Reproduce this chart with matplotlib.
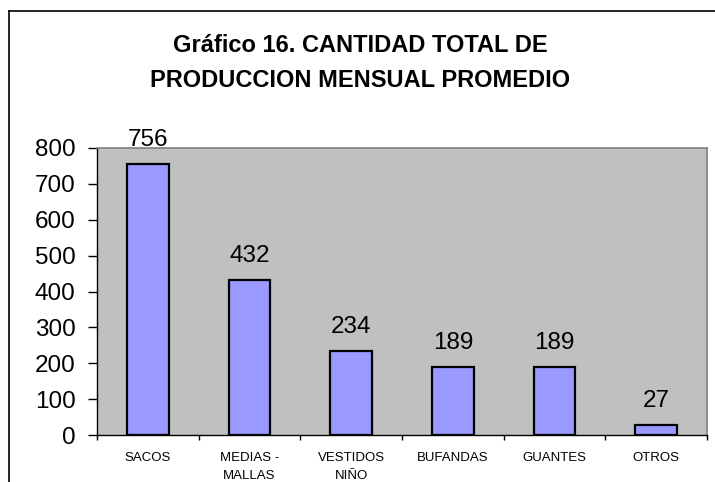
import matplotlib
matplotlib.use("Agg")
import matplotlib.pyplot as plt
from matplotlib.lines import Line2D
import numpy as np

categories = ["SACOS", "MEDIAS -\nMALLAS", "VESTIDOS\nNIÑO", "BUFANDAS", "GUANTES", "OTROS"]
values = [756, 432, 234, 189, 189, 27]
yticks = [0, 100, 200, 300, 400, 500, 600, 700, 800]
title1 = "Gráfico 16. CANTIDAD TOTAL DE"
title2 = "PRODUCCION MENSUAL PROMEDIO"

plt.rcParams['font.family'] = ['Liberation Sans', 'DejaVu Sans']

W, H = 715, 482
fig = plt.figure(figsize=(W / 100, H / 100), dpi=100)
fig.patch.set_facecolor("white")

L, R, T, B = 97, 707, 148, 435
ax = fig.add_axes([L / W, 1 - B / H, (R - L) / W, (B - T) / H])
ax.set_facecolor("#C0C0C0")

x = np.arange(len(categories))
ax.bar(x, values, width=0.41, color="#9999FF", edgecolor="black", linewidth=1.6, zorder=3)

ax.set_xlim(-0.5, len(categories) - 0.5)
ax.set_ylim(0, 800)
ax.set_yticks(yticks)
ax.set_yticklabels([str(v) for v in yticks], fontsize=17.5)
ax.tick_params(axis='y', direction='out', length=6.5, width=1, pad=9, colors='black')

ax.set_xticks(x)
ax.set_xticklabels(categories, fontsize=9.5, linespacing=1.6, va='top')
ax.tick_params(axis='x', which='major', length=0, pad=12.5)
ax.set_xticks(np.arange(-0.5, len(categories) + 0.5, 1), minor=True)
ax.tick_params(axis='x', which='minor', direction='out', length=3.5, width=1, color='black')

for s in ['top', 'right']:
    ax.spines[s].set_color('#808080')
    ax.spines[s].set_linewidth(1.2)
for s in ['left', 'bottom']:
    ax.spines[s].set_color('black')
    ax.spines[s].set_linewidth(1.0)

for xi, v in zip(x, values):
    ax.annotate(str(v), (xi, v), xytext=(0, 13), textcoords='offset points',
                ha='center', va='baseline', fontsize=17.5, clip_on=False)

fig.text(360 / W, 1 - 52 / H, title1, ha='center', va='baseline', fontsize=17, fontweight='bold')
fig.text(360 / W, 1 - 87 / H, title2, ha='center', va='baseline', fontsize=17, fontweight='bold')

# outer chart border (cropped on right and bottom)
fig.add_artist(Line2D([8.5 / W, 8.5 / W], [0, 1 - 10.5 / H], transform=fig.transFigure, color='black', lw=1.2))
fig.add_artist(Line2D([8.5 / W, 1], [1 - 10.5 / H, 1 - 10.5 / H], transform=fig.transFigure, color='black', lw=1.2))

fig.savefig("out.png", dpi=100)
